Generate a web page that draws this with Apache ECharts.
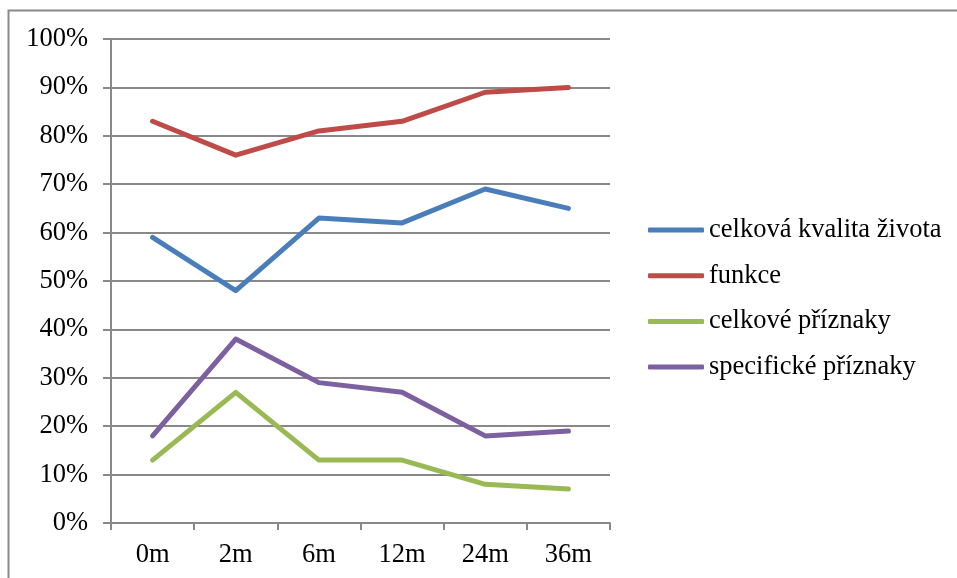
<!DOCTYPE html>
<html>
<head>
<meta charset="utf-8">
<script src="https://cdn.jsdelivr.net/npm/echarts@6/dist/echarts.min.js"></script>
<style>
  html, body { margin: 0; padding: 0; background: #fff; }
  #chart { width: 957px; height: 578px; }
</style>
</head>
<body>
<div id="chart"></div>
<script>
// Time points after treatment
var categories = ['0m', '2m', '6m', '12m', '24m', '36m'];

// Quality-of-life scores (%)
var kvalitaZivota = [59, 48, 63, 62, 69, 65];
var funkce = [83, 76, 81, 83, 89, 90];
var celkovePriznaky = [13, 27, 13, 13, 8, 7];
var specifickePriznaky = [18, 38, 29, 27, 18, 19];

var seriesNames = ['celková kvalita života', 'funkce', 'celkové příznaky', 'specifické příznaky'];
var seriesColors = ['#4A7EBB', '#BE4B48', '#98B954', '#7D60A0'];
var seriesData = [kvalitaZivota, funkce, celkovePriznaky, specifickePriznaky];

var FONT = "'Liberation Serif', 'Times New Roman', serif";
var FONT_SIZE = 26.5;
var GRAY = '#898989';

var chart = echarts.init(document.getElementById('chart'));

chart.setOption({
  animation: false,
  backgroundColor: '#fff',
  textStyle: { fontFamily: FONT },
  graphic: [{
    type: 'rect',
    shape: { x: 8.5, y: 10.5, width: 1000, height: 1000 },
    style: { fill: 'none', stroke: GRAY, lineWidth: 2 },
    silent: true
  }],
  grid: { left: 111, right: 347, top: 39, bottom: 55, containLabel: false },
  legend: {
    orient: 'vertical',
    left: 648,
    top: 215,
    padding: 0,
    itemWidth: 56,
    itemHeight: 5,
    itemGap: 15.7,
    icon: 'roundRect',
    textStyle: { fontFamily: FONT, fontSize: FONT_SIZE, color: '#000', lineHeight: 30 },
    data: seriesNames
  },
  xAxis: {
    type: 'category',
    data: categories,
    boundaryGap: true,
    axisLine: { lineStyle: { color: GRAY, width: 2 } },
    axisTick: { show: true, length: 7, lineStyle: { color: GRAY, width: 2 } },
    axisLabel: { color: '#000', fontFamily: FONT, fontSize: FONT_SIZE, margin: 19 },
    splitLine: { show: false }
  },
  yAxis: {
    type: 'value',
    min: 0,
    max: 100,
    interval: 10,
    axisLine: { show: true, lineStyle: { color: GRAY, width: 2 } },
    axisTick: { show: true, length: 8, lineStyle: { color: GRAY, width: 2 } },
    axisLabel: { color: '#000', fontFamily: FONT, fontSize: FONT_SIZE, margin: 23, formatter: '{value}%' },
    splitLine: { show: true, lineStyle: { color: GRAY, width: 2 } }
  },
  series: seriesNames.map(function (name, i) {
    return {
      name: name,
      type: 'line',
      data: seriesData[i],
      symbol: 'none',
      smooth: false,
      color: seriesColors[i],
      lineStyle: { width: 5, color: seriesColors[i], cap: 'round', join: 'round' }
    };
  })
});
</script>
</body>
</html>
